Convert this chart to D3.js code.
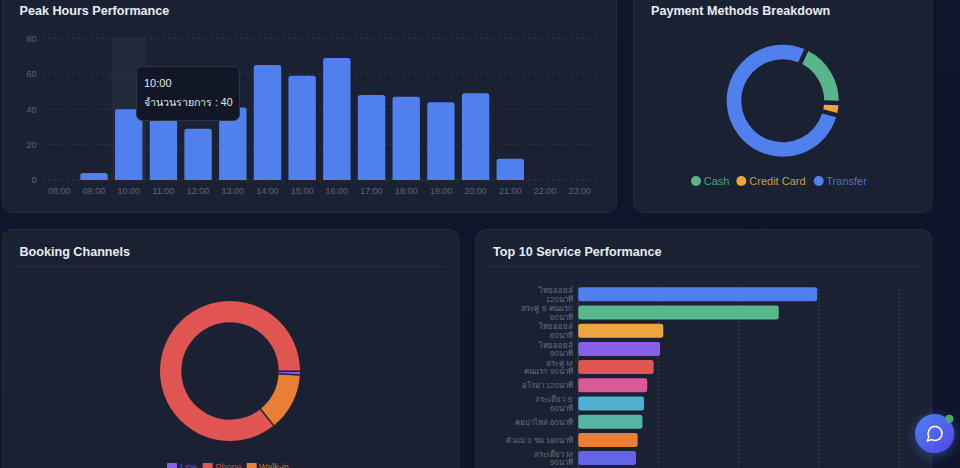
<!DOCTYPE html>
<html>
<head>
<meta charset="utf-8">
<script src="https://cdnjs.cloudflare.com/ajax/libs/d3/7.8.5/d3.min.js"></script>
<style>
html,body{margin:0;padding:0;width:960px;height:468px;overflow:hidden;background:#0f172a;}
svg{display:block;font-family:"Liberation Sans","Noto Sans",sans-serif;}
</style>
</head>
<body>
<svg id="dash" width="960" height="468"></svg>
<script>
// Peak hours
const hours = ["08:00","09:00","10:00","11:00","12:00","13:00","14:00","15:00","16:00","17:00","18:00","19:00","20:00","21:00","22:00","23:00"];
const hourCounts = [0,4,40,46,29,41,65,59,69,48,47,44,49,12,0,0];
const hourTicks = [0,20,40,60,80];

// Payment methods
const paymentNames = ["Cash","Credit Card","Transfer"];
const paymentValues = [63,8,276];
const paymentColors = ["#57b68a","#eda63f","#4f80ee"];

// Booking channels
const channelNames = ["Line","Phone","Walk-in"];
const channelValues = [3,500,76];
const channelColors = ["#8760ea","#e05452","#e97f35"];

// Top services
const serviceLabels = [
  ["ไทยออยล์","120นาที"],["สระคู่ S คนแรก","60นาที"],["ไทยออยล์","60นาที"],["ไทยออยล์","90นาที"],
  ["สระคู่ M","คนแรก 90นาที"],["อโรม่า 120นาที"],["สระเดี่ยว S","60นาที"],["คอบ่าไหล่ 60นาที"],
  ["ตัวแม่ 3 ชม 180นาที"],["สระเดี่ยว M","90นาที"]
];
const serviceValues = [149,125,53,51,47,43,41,40,37,36];
const serviceColors = ["#4f80ee","#57b68a","#eda63f","#8760ea","#e05452","#dc5898","#4fb0d0","#55b5a4","#e97f35","#6464e6"];
const serviceTicks = [0,50,100,150,200];

const svg = d3.select("#dash");
const defs = svg.append("defs");
const bg = defs.append("linearGradient").attr("id","pageBg").attr("x1",0).attr("y1",0).attr("x2",1).attr("y2",1);
bg.append("stop").attr("offset",0).attr("stop-color","#0f172c");
bg.append("stop").attr("offset",1).attr("stop-color","#0e1429");
const fab = defs.append("linearGradient").attr("id","fabFill").attr("x1",0).attr("y1",0).attr("x2",1).attr("y2",1);
fab.append("stop").attr("offset",0).attr("stop-color","#4f80f3");
fab.append("stop").attr("offset",1).attr("stop-color","#4f46e5");
const glow = defs.append("filter").attr("id","fabGlow").attr("x","-60%").attr("y","-60%").attr("width","220%").attr("height","220%");
glow.append("feGaussianBlur").attr("stdDeviation",6);

svg.append("rect").attr("width",960).attr("height",468).attr("fill","url(#pageBg)");

function card(x,y,w,h){
  svg.append("rect").attr("x",x+.5).attr("y",y+.5).attr("width",w).attr("height",h).attr("rx",10)
    .attr("fill","#1a2132").attr("stroke","#232b3c");
}
function title(x,y,t){
  svg.append("text").attr("x",x).attr("y",y).attr("fill","#e8ecf2").attr("font-size",12.6).attr("font-weight",700).text(t);
}
card(2,-20,614,232); card(633,-20,298.5,232); card(2,229,456.5,260); card(475.5,229,455.5,260);
title(19.5,15,"Peak Hours Performance");
title(651,15,"Payment Methods Breakdown");
title(19.5,256,"Booking Channels");
title(493,256,"Top 10 Service Performance");
[[14,446.5],[487.5,920]].forEach(([a,b])=>svg.append("line").attr("x1",a).attr("x2",b).attr("y1",266.7).attr("y2",266.7).attr("stroke","#293143"));

// Hourly bars
const xH = d3.scaleBand().domain(hours).range([42,597]);
const yH = d3.scaleLinear().domain([0,80]).range([180,38.5]);
const gH = svg.append("g");
gH.append("rect").attr("x",xH("10:00")).attr("y",yH(80)).attr("width",xH.bandwidth()).attr("height",yH(0)-yH(80)).attr("fill","#212a3a");
gH.selectAll("line.grid").data(hourTicks).join("line").attr("class","grid").attr("x1",42).attr("x2",597)
  .attr("y1",d=>yH(d)).attr("y2",d=>yH(d)).attr("stroke","#2d3647").attr("stroke-dasharray","3 3");
const axisStyle = g => { g.select(".domain").remove(); g.selectAll("line").remove();
  g.selectAll("text").attr("fill","#5d6676").attr("font-size",9).attr("font-family",null); };
gH.append("g").attr("transform","translate(0,180)")
  .call(d3.axisBottom(xH).tickSize(0).tickPadding(8)).call(axisStyle);
gH.append("g").attr("transform","translate(42,0)")
  .call(d3.axisLeft(yH).tickValues(hourTicks).tickSize(0).tickPadding(5.5)).call(axisStyle);
const bw = 27.4;
const roundTop = (x,y,w,h,r)=>{ const q=d3.path(); const rr=Math.min(r,h);
  q.moveTo(x,y+h); q.lineTo(x,y+rr); q.arcTo(x,y,x+rr,y,rr); q.lineTo(x+w-rr,y); q.arcTo(x+w,y,x+w,y+rr,rr); q.lineTo(x+w,y+h); q.closePath(); return q.toString(); };
gH.selectAll("path.bar").data(hours.map((h,i)=>({h,v:hourCounts[i]})).filter(d=>d.v>0)).join("path").attr("class","bar").attr("fill","#4f80ee")
  .attr("d",d=>roundTop(xH(d.h)+(xH.bandwidth()-bw)/2,yH(d.v),bw,yH(0)-yH(d.v),2.5));

// Tooltip for the hovered hour
const tip = svg.append("g").attr("transform","translate(136.5,66.5)");
tip.append("rect").attr("width",103).attr("height",54).attr("rx",6).attr("fill","#111726").attr("stroke","#2c3548");
tip.append("text").attr("x",7.5).attr("y",20).attr("font-size",11).attr("fill","#e5e7eb").text(hours[2]);
tip.append("text").attr("x",7.5).attr("y",39.5).attr("font-size",10.6).attr("fill","#e5e7eb").text("จำนวนรายการ : "+hourCounts[2]);

// Payment donut
const deg = Math.PI/180;
const payPie = d3.pie().sort(null).startAngle(25*deg).endAngle(385*deg).padAngle(0.08);
const payArc = d3.arc().innerRadius(41.5).outerRadius(56).padRadius(56);
svg.append("g").attr("transform","translate(782.7,100.7)")
  .selectAll("path").data(payPie(paymentValues)).join("path")
  .attr("fill",(d,i)=>paymentColors[i]).attr("d",payArc);
const payLegend = [[696,703.7,"#4f9f7e"],[741.3,749.3,"#d2994a"],[818.7,826.3,"#4771d3"]];
paymentNames.forEach((n,i)=>{
  svg.append("circle").attr("cx",payLegend[i][0]).attr("cy",181).attr("r",5).attr("fill",paymentColors[i]);
  svg.append("text").attr("x",payLegend[i][1]).attr("y",184.6).attr("font-size",11).attr("fill",payLegend[i][2]).text(n);
});

// Booking donut, running counter-clockwise from the right-hand side
const chPie = d3.pie().sort(null).startAngle(93.3*deg).endAngle(-266.7*deg).padAngle(0.0214);
const chArc = d3.arc().innerRadius(48.7).outerRadius(70).padRadius(70);
svg.append("g").attr("transform","translate(230,371)")
  .selectAll("path").data(chPie(channelValues)).join("path")
  .attr("fill",(d,i)=>channelColors[i]).attr("d",chArc);
const chLegend = [[167,180,"#6f52c8"],[202.7,215.5,"#c04a4a"],[246.7,259,"#c9763a"]];
channelNames.forEach((n,i)=>{
  svg.append("rect").attr("x",chLegend[i][0]).attr("y",463).attr("width",10).attr("height",10).attr("fill",channelColors[i]);
  svg.append("text").attr("x",chLegend[i][1]).attr("y",470).attr("font-size",9).attr("fill",chLegend[i][2]).text(n);
});

// Service ranking
const xS = d3.scaleLinear().domain([0,200]).range([578.3,899]);
const yS = d3.scaleBand().domain(d3.range(serviceValues.length)).range([285.2,467.2]);
const gS = svg.append("g");
gS.selectAll("line.v").data(serviceTicks).join("line").attr("class","v")
  .attr("x1",d=>xS(d)).attr("x2",d=>xS(d)).attr("y1",285).attr("y2",470)
  .attr("stroke",d=>d===0?"#333c4e":"#343d4e").attr("stroke-dasharray",d=>d===0?null:"2 2");
gS.selectAll("rect.bar").data(serviceValues).join("rect").attr("class","bar")
  .attr("x",xS(0)).attr("y",(d,i)=>yS(i)+(yS.bandwidth()-14)/2).attr("width",d=>xS(d)-xS(0)).attr("height",14)
  .attr("rx",2.5).attr("fill",(d,i)=>serviceColors[i]);
serviceLabels.forEach((lines,i)=>{
  const cy = yS(i)+yS.bandwidth()/2;
  const t = gS.append("text").attr("text-anchor","end").attr("font-size",7.8).attr("fill","#687183");
  lines.forEach((l,j)=>t.append("tspan").attr("x",572.8)
    .attr("y",cy+(lines.length===2 ? (j===0?-1.4:7.2) : 2.8)).text(l));
});

// Chat button
svg.append("circle").attr("cx",934.7).attr("cy",436).attr("r",21).attr("fill","#4f6cf0").attr("opacity",.4).attr("filter","url(#fabGlow)");
svg.append("circle").attr("cx",934.7).attr("cy",433.7).attr("r",19.6).attr("fill","url(#fabFill)");
svg.append("path").attr("transform","translate(925.8,424.2) scale(.77)")
  .attr("d","M7.9 20A9 9 0 1 0 4 16.1L2 22Z").attr("fill","none").attr("stroke","#fff").attr("stroke-width",2).attr("stroke-linejoin","round");
svg.append("circle").attr("cx",949.4).attr("cy",418.8).attr("r",4).attr("fill","#4ba66f");
</script>
</body>
</html>
